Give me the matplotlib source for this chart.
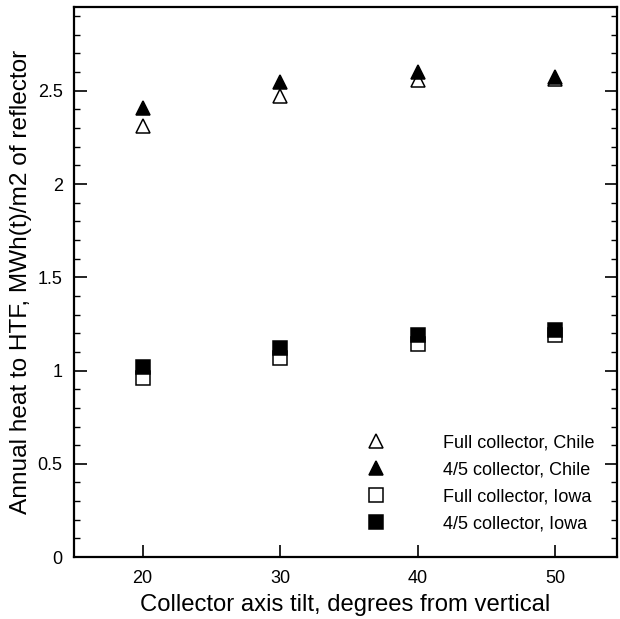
import numpy as np
import matplotlib
matplotlib.use("Agg")
import matplotlib.pyplot as plt
from matplotlib.ticker import MultipleLocator, FormatStrFormatter

# collector axis tilt (degrees from vertical)
tilt = [20, 30, 40, 50]

full_chile = [2.31, 2.47, 2.56, 2.565]
part_chile = [2.41, 2.545, 2.60, 2.575]
full_iowa = [0.96, 1.07, 1.145, 1.19]
part_iowa = [1.02, 1.12, 1.19, 1.215]

series_labels = [
    "Full collector, Chile",
    "4/5 collector, Chile",
    "Full collector, Iowa",
    "4/5 collector, Iowa",
]

plt.rcParams['font.family'] = ['Liberation Sans', 'DejaVu Sans']

fig = plt.figure(figsize=(6.2, 6.19), dpi=100)
ax = fig.add_axes([0.119, 0.1, 0.876, 0.889])

ax.plot(tilt, full_chile, linestyle='none', marker='^', markersize=10.5,
        markerfacecolor='white', markeredgecolor='black', markeredgewidth=1.1,
        label=series_labels[0])
ax.plot(tilt, part_chile, linestyle='none', marker='^', markersize=10.5,
        markerfacecolor='black', markeredgecolor='black', markeredgewidth=1.1,
        label=series_labels[1])
ax.plot(tilt, full_iowa, linestyle='none', marker='s', markersize=9.5,
        markerfacecolor='white', markeredgecolor='black', markeredgewidth=1.1,
        label=series_labels[2])
ax.plot(tilt, part_iowa, linestyle='none', marker='s', markersize=9.5,
        markerfacecolor='black', markeredgecolor='black', markeredgewidth=1.1,
        label=series_labels[3])

ax.set_xlim(15, 54.5)
ax.set_ylim(0, 2.95)
ax.xaxis.set_major_locator(MultipleLocator(10))
ax.yaxis.set_major_locator(MultipleLocator(0.5))
ax.yaxis.set_minor_locator(MultipleLocator(0.1))
ax.yaxis.set_major_formatter(FormatStrFormatter('%g'))

ax.tick_params(axis='x', which='major', direction='in', length=9, width=1.2,
               labelsize=13, pad=9, top=False)
ax.tick_params(axis='y', which='major', direction='in', length=9, width=1.2,
               labelsize=13, pad=8, right=True)
ax.tick_params(axis='y', which='minor', direction='in', length=4, width=1.0,
               right=True)

for spine in ax.spines.values():
    spine.set_linewidth(1.6)

ax.set_xlabel("Collector axis tilt, degrees from vertical", fontsize=17.2,
              labelpad=5)
ax.set_ylabel("Annual heat to HTF, MWh(t)/m2 of reflector", fontsize=17.6,
              labelpad=4)

ax.legend(loc='lower right', bbox_to_anchor=(0.985, 0.019), frameon=False,
          fontsize=13, handlelength=1.0, handletextpad=3.2,
          labelspacing=0.55, numpoints=1, borderpad=0.3)

fig.savefig("out.png", dpi=100)
